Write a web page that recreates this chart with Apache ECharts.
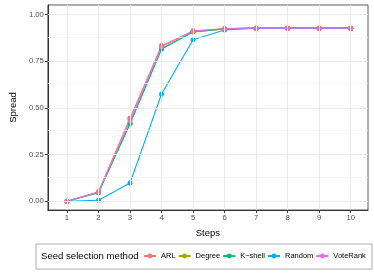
<!DOCTYPE html>
<html><head><meta charset="utf-8">
<script src="https://cdn.jsdelivr.net/npm/echarts@6/dist/echarts.min.js"></script>
<style>html,body{margin:0;padding:0;background:#fff}#c{width:374px;height:275px}</style>
</head><body><div id="c"></div>
<script>
const steps = [1,2,3,4,5,6,7,8,9,10];
const xTicks = [1,2,3,4,5,6,7,8,9,10];
const yTicks = [0, 0.25, 0.5, 0.75, 1.0];
const yMinor = [0.125, 0.375, 0.625, 0.875];
const methods = ['ARL','Degree','K\u2212shell','Random','VoteRank'];
const colors = ['#F8766D','#A3A500','#00BF7D','#00B0F6','#E76BF3'];
const arl      = [0, 0.051, 0.445, 0.834, 0.912, 0.925, 0.928, 0.928, 0.928, 0.928];
const degree   = [0, 0.047, 0.418, 0.818, 0.908, 0.924, 0.928, 0.928, 0.928, 0.928];
const kshell   = [0, 0.046, 0.415, 0.816, 0.907, 0.924, 0.928, 0.928, 0.928, 0.928];
const random   = [0, 0.005, 0.098, 0.575, 0.866, 0.918, 0.927, 0.928, 0.928, 0.928];
const voterank = [0, 0.050, 0.432, 0.828, 0.912, 0.926, 0.928, 0.928, 0.928, 0.928];
// error half-widths
const arlErr      = [0, 0.003, 0.010, 0.005, 0.003, 0.002, 0, 0, 0, 0];
const degreeErr   = [0, 0.003, 0.010, 0.005, 0.003, 0.002, 0, 0, 0, 0];
const kshellErr   = [0, 0.003, 0.010, 0.005, 0.003, 0.002, 0, 0, 0, 0];
const randomErr   = [0, 0.003, 0.016, 0.026, 0.005, 0.003, 0, 0, 0, 0];
const voterankErr = [0, 0.003, 0.010, 0.005, 0.003, 0.002, 0, 0, 0, 0];

const values = [arl, degree, kshell, random, voterank];
const errs = [arlErr, degreeErr, kshellErr, randomErr, voterankErr];

const chart = echarts.init(document.getElementById('c'), null, {renderer:'canvas'});
const series = [];
series.push({
  type:'line', data:[], silent:true, z:0,
  markLine:{silent:true, symbol:'none', label:{show:false}, animation:false,
    data: [
      ...yMinor.map(v=>({yAxis:v, lineStyle:{color:'#F4F4F4', width:0.7, type:'solid'}})),
      ...yTicks.map(v=>({yAxis:v, lineStyle:{color:'#EBEBEB', width:1, type:'solid'}})),
      ...xTicks.map(v=>({xAxis:v, lineStyle:{color:'#EBEBEB', width:1, type:'solid'}}))
    ]}
});
methods.forEach((m,i)=>{
  series.push({
    type:'line', name:m, z:3,
    data: steps.map((s,k)=>[s, values[i][k]]),
    symbol:'circle', symbolSize:5, showSymbol:true,
    lineStyle:{color:colors[i], width:1.1},
    itemStyle:{color:colors[i], borderWidth:0},
    emphasis:{disabled:true},
    animation:false
  });
});
methods.forEach((m,i)=>{
  const e = errs[i];
  series.push({
    type:'custom', name:'err'+i, z:3,
    data: steps.map((s,k)=>[s, values[i][k]-e[k], values[i][k]+e[k]]),
    renderItem:(params, api)=>{
      const lo = api.coord([api.value(0), api.value(1)]);
      const hi = api.coord([api.value(0), api.value(2)]);
      return {type:'line', shape:{x1:lo[0],y1:lo[1],x2:hi[0],y2:hi[1]}, style:{stroke:colors[i], lineWidth:1.2}};
    },
    silent:true
  });
});
series.push({
  type:'scatter', name:'ARLpts', z:4, symbol:'circle', symbolSize:5,
  data: steps.map((s,k)=>[s, arl[k]]), itemStyle:{color:colors[0], borderWidth:0}, animation:false
});

chart.setOption({
  animation:false,
  color: colors,
  grid:{left:38, right:6, top:5, bottom:65, show:true, borderColor:'#333', borderWidth:0.8},
  xAxis:{type:'value', min:0.394, max:10.55, name:'Steps', nameLocation:'middle', nameGap:18,
    nameTextStyle:{color:'#000', fontSize:9.5, fontFamily:'Liberation Sans'},
    axisLine:{show:true, onZero:false, lineStyle:{color:'#333', width:1}},
    axisTick:{show:true, length:3, customValues:xTicks, lineStyle:{color:'#333'}},
    axisLabel:{customValues:xTicks, color:'#4D4D4D', fontSize:7.7, fontFamily:'Liberation Sans', margin:4},
    splitLine:{show:false}},
  yAxis:{type:'value', min:-0.047, max:1.052, name:'Spread', nameLocation:'middle', nameGap:26,
    nameTextStyle:{color:'#000', fontSize:9.5, fontFamily:'Liberation Sans'},
    axisLine:{show:true, onZero:false, lineStyle:{color:'#333', width:1}},
    axisTick:{show:true, length:3, customValues:yTicks, lineStyle:{color:'#333'}},
    axisLabel:{customValues:yTicks, color:'#4D4D4D', fontSize:7.7, fontFamily:'Liberation Sans', margin:4,
      formatter:v=>v.toFixed(2)},
    splitLine:{show:false}},
  legend:{data:methods, orient:'horizontal', left:143, top:252, width:360, padding:0, itemWidth:12, itemHeight:6, itemGap:2,
    textStyle:{fontSize:7.5, color:'#000', fontFamily:'Liberation Sans'}},
  graphic:[
    {type:'rect', shape:{x:36, y:244, width:336, height:25}, style:{fill:'none', stroke:'#999', lineWidth:0.8}},
    {type:'text', x:41, y:256.5, style:{text:'Seed selection method', fontSize:9.6, fill:'#000', fontFamily:'Liberation Sans', verticalAlign:'middle'}}
  ],
  series: series
});
</script></body></html>
